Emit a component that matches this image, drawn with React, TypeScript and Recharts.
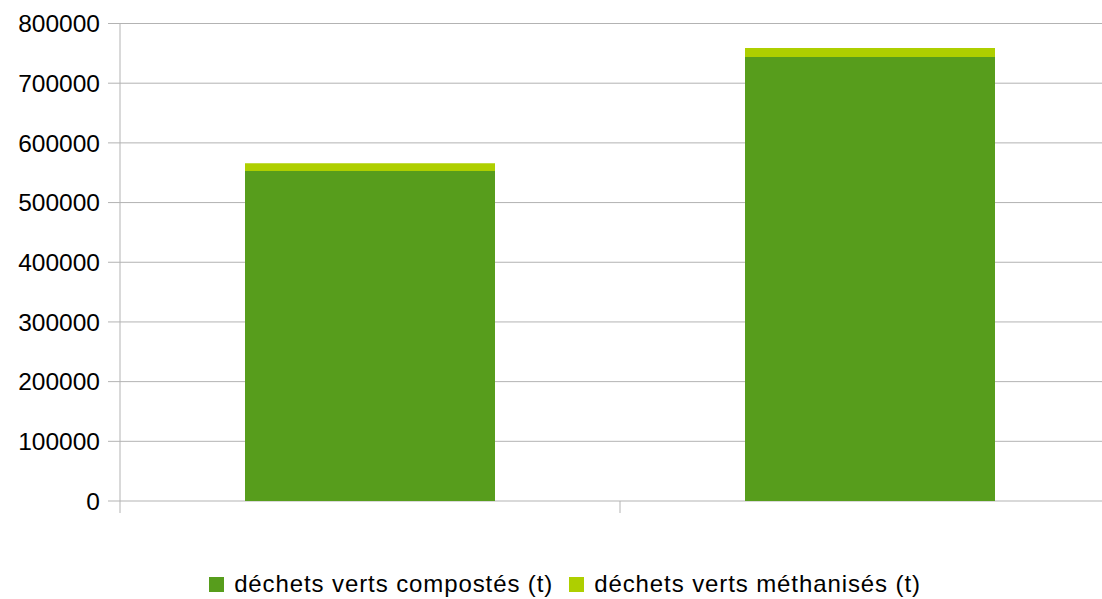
import React from 'react';
import { BarChart, Bar, XAxis, YAxis, CartesianGrid, Legend } from 'recharts';

const categories = ['Période 1', 'Période 2'];
const composted = [553000, 744000];
const methanised = [13000, 15000];
const yTicks = [0, 100000, 200000, 300000, 400000, 500000, 600000, 700000, 800000];

const series = [
  { key: 'compost', name: 'déchets verts compostés (t)', color: '#579d1c' },
  { key: 'methan', name: 'déchets verts méthanisés (t)', color: '#aecf00' },
];

const data = categories.map((c, i) => ({ name: c, compost: composted[i], methan: methanised[i] }));

const FONT = '"Liberation Sans", Arial, sans-serif';
const GRID = '#b3b3b3';
const TICK_LEN = 12;

const BoundaryTick = (props: any) => {
  const { x, y, payload, width, visibleTicksCount, index } = props;
  const half = payload && typeof payload.offset === 'number' && payload.offset > 0
    ? payload.offset
    : width / visibleTicksCount / 2;
  const last = index === visibleTicksCount - 1;
  return (
    <g>
      <line x1={x - half} x2={x - half} y1={y} y2={y + TICK_LEN} stroke={GRID} />
      {last && <line x1={x + half} x2={x + half} y1={y} y2={y + TICK_LEN} stroke={GRID} />}
    </g>
  );
};

const LegendContent = () => (
  <div
    style={{
      display: 'flex',
      justifyContent: 'center',
      alignItems: 'center',
      fontFamily: FONT,
      fontSize: 24,
      letterSpacing: '0.9px',
      lineHeight: '30px',
      color: '#000',
    }}
  >
    {series.map((s, i) => (
      <div key={s.key} style={{ display: 'flex', alignItems: 'center', marginLeft: i ? 16 : 0 }}>
        <span style={{ width: 15, height: 15, background: s.color, marginRight: 10, display: 'inline-block' }} />
        <span>{s.name}</span>
      </div>
    ))}
  </div>
);

export default function App() {
  return (
    <div style={{ position: 'absolute', left: 0, top: 0, width: 1102, height: 599, overflow: 'hidden', background: '#fff' }}>
      <BarChart
        width={1130}
        height={599}
        data={data}
        margin={{ top: 23.5, right: 10, left: 0, bottom: 86 }}
        barCategoryGap="25%"
      >
        <CartesianGrid vertical={false} stroke={GRID} strokeDasharray="" />
        <XAxis
          dataKey="name"
          interval={0}
          height={12}
          tickSize={0}
          tickMargin={0}
          tickLine={false}
          axisLine={false}
          tick={<BoundaryTick />}
        />
        <YAxis
          width={120}
          domain={[0, 800000]}
          ticks={yTicks}
          interval={0}
          tickSize={12}
          tickMargin={8}
          axisLine={{ stroke: GRID }}
          tickLine={{ stroke: GRID }}
          tick={{ fill: '#000', fontSize: 24.5, fontFamily: FONT }}
        />
        <Legend
          layout="horizontal"
          verticalAlign="middle"
          align="center"
          content={<LegendContent />}
          wrapperStyle={{ top: 569, left: 0, width: 1130 }}
        />
        {series.map((s) => (
          <Bar
            key={s.key}
            dataKey={s.key}
            name={s.name}
            stackId="a"
            fill={s.color}
            isAnimationActive={false}
          />
        ))}
      </BarChart>
    </div>
  );
}
